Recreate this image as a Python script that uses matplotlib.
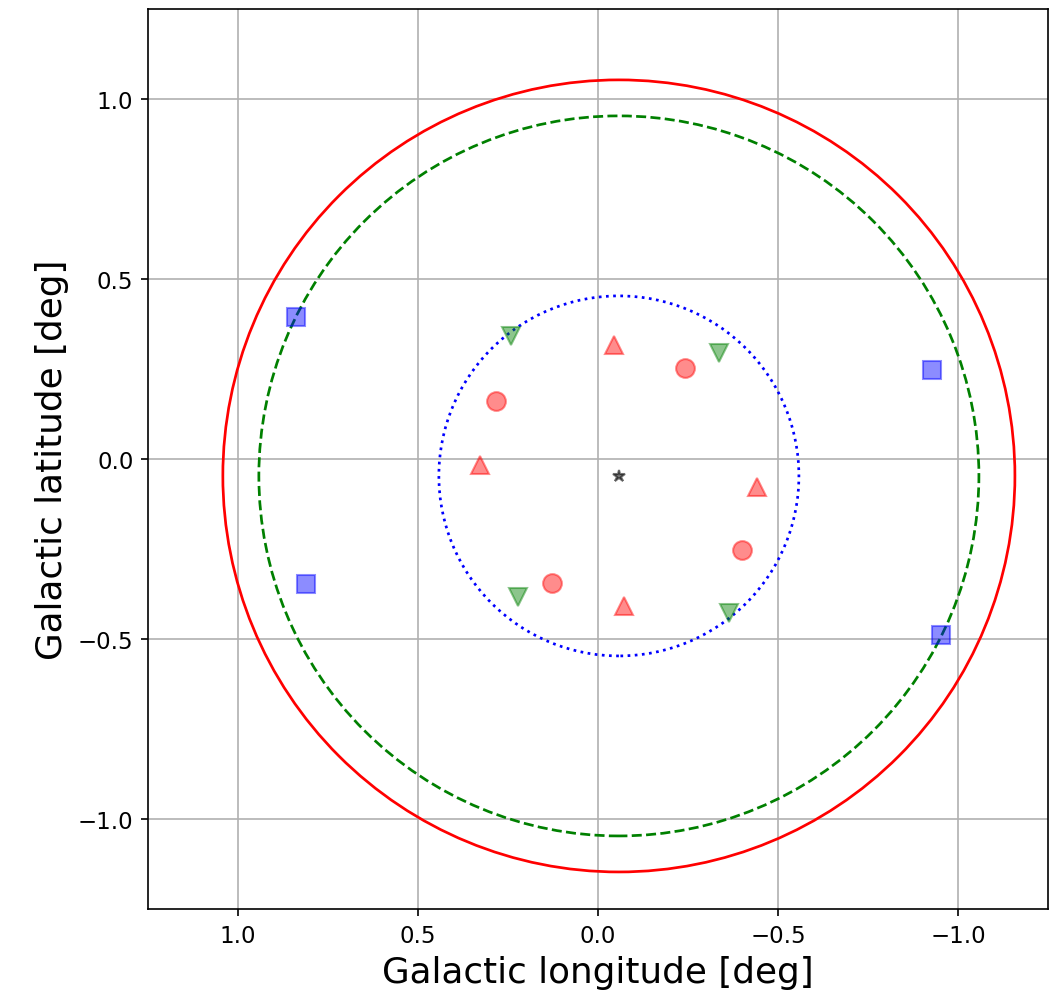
import matplotlib
matplotlib.use("Agg")
import matplotlib.pyplot as plt

# source position and region radii (deg)
src_l, src_b = -0.058, -0.047
r_outer = 1.1
r_mid = 1.0
r_inner = 0.5

# reflected-region positions
circ_l = [0.283, -0.241, -0.399, 0.127]
circ_b = [0.161, 0.252, -0.252, -0.344]

tri_up_l = [-0.044, 0.327, -0.443, -0.072]
tri_up_b = [0.316, -0.017, -0.078, -0.408]

tri_dn_l = [0.241, -0.335, 0.222, -0.363]
tri_dn_b = [0.341, 0.294, -0.383, -0.427]

sq_l = [0.839, 0.812, -0.928, -0.953]
sq_b = [0.394, -0.347, 0.247, -0.488]

fig = plt.figure(figsize=(7.02, 6.6333), dpi=150)
ax = fig.add_axes([0.1405, 0.0854, 0.8548, 0.9046])

ax.add_patch(plt.Circle((src_l, src_b), r_outer, fill=False, color='red', lw=1.3))
ax.add_patch(plt.Circle((src_l, src_b), r_mid, fill=False, color='green', lw=1.3, ls='--'))
ax.add_patch(plt.Circle((src_l, src_b), r_inner, fill=False, color='blue', lw=1.3, ls=':'))

ax.plot(circ_l, circ_b, 'o', color='red', alpha=0.45, ms=9, ls='none')
ax.plot(tri_up_l, tri_up_b, '^', color='red', alpha=0.45, ms=9, ls='none')
ax.plot(tri_dn_l, tri_dn_b, 'v', color='green', alpha=0.45, ms=9, ls='none')
ax.plot(sq_l, sq_b, 's', color='blue', alpha=0.45, ms=8.5, ls='none')
ax.plot([src_l], [src_b], '*', color='black', alpha=0.55, ms=6)

ax.set_xlim(1.25, -1.25)
ax.set_ylim(-1.25, 1.25)
ax.set_aspect('equal')
ax.set_xticks([1.0, 0.5, 0.0, -0.5, -1.0])
ax.set_yticks([-1.0, -0.5, 0.0, 0.5, 1.0])
ax.tick_params(labelsize=11)
ax.grid(True)
ax.set_axisbelow(True)

ax.set_xlabel('Galactic longitude [deg]', fontsize=17.2)
ax.set_ylabel('Galactic latitude [deg]', fontsize=17.2)

fig.savefig('out.png', dpi=150)
